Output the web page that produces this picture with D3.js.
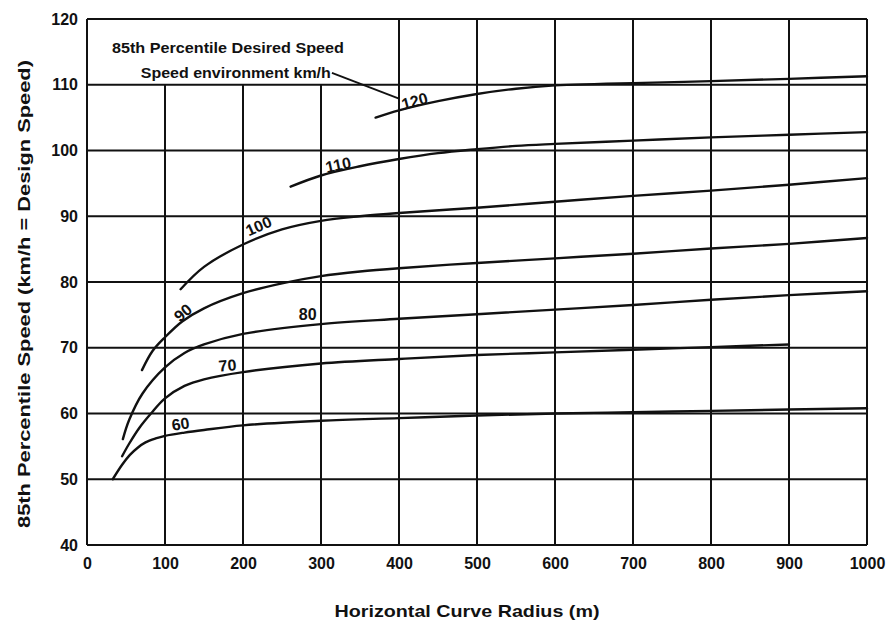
<!DOCTYPE html>
<html>
<head>
<meta charset="utf-8">
<script src="https://cdn.jsdelivr.net/npm/d3@7"></script>
<style>
  html, body { margin: 0; padding: 0; background: #fff; }
  svg { display: block; }
  text { font-family: "Liberation Sans", Arial, sans-serif; fill: #111; }
</style>
</head>
<body>
<svg id="chart" width="888" height="620"></svg>
<script>
// Axis ticks
const radiusTicks = [0, 100, 200, 300, 400, 500, 600, 700, 800, 900, 1000];
const speedTicks = [40, 50, 60, 70, 80, 90, 100, 110, 120];

// Speed environment (km/h) of each curve
const environments = [60, 70, 80, 90, 100, 110, 120];

// Horizontal curve radius (m) and 85th percentile speed (km/h) per environment
const radius60 = [33, 45, 55, 65, 75, 88, 100, 125, 150, 200, 300, 400, 500, 600, 700, 800, 900, 1000];
const speed60  = [50.0, 52.2, 53.7, 54.8, 55.6, 56.2, 56.6, 57.1, 57.5, 58.2, 58.9, 59.3, 59.7, 60.0, 60.2, 60.4, 60.6, 60.8];

const radius70 = [45, 54, 67, 82, 100, 125, 150, 200, 300, 400, 500, 600, 700, 800, 900];
const speed70  = [53.5, 55.4, 57.8, 60.0, 62.3, 64.2, 65.2, 66.3, 67.6, 68.3, 68.9, 69.3, 69.7, 70.1, 70.5];

const radius80 = [46, 54, 71, 100, 125, 150, 200, 300, 400, 500, 600, 700, 800, 900, 1000];
const speed80  = [56.1, 59.0, 63.0, 67.0, 69.2, 70.5, 72.1, 73.6, 74.4, 75.1, 75.8, 76.5, 77.3, 78.0, 78.6];

const radius90 = [70.5, 84, 100, 122, 150, 200, 250, 300, 350, 400, 500, 600, 700, 800, 900, 1000];
const speed90  = [66.6, 69.5, 71.6, 74.0, 76.0, 78.3, 79.8, 80.9, 81.6, 82.1, 82.9, 83.6, 84.3, 85.1, 85.8, 86.7];

const radius100 = [120, 150, 200, 250, 300, 350, 400, 500, 600, 700, 800, 900, 1000];
const speed100  = [78.9, 82.3, 85.7, 88.0, 89.3, 90.0, 90.5, 91.3, 92.2, 93.1, 93.9, 94.8, 95.8];

const radius110 = [261, 300, 350, 400, 450, 500, 550, 600, 700, 800, 900, 1000];
const speed110  = [94.5, 96.2, 97.6, 98.7, 99.6, 100.2, 100.7, 101.0, 101.5, 102.0, 102.4, 102.8];

const radius120 = [370, 400, 450, 500, 550, 600, 650, 700, 800, 900, 1000];
const speed120  = [105.0, 106.1, 107.5, 108.6, 109.4, 109.9, 110.1, 110.25, 110.55, 110.9, 111.3];

// Text
const legendTitle = "85th Percentile Desired Speed";
const legendSubtitle = "Speed environment km/h";
const xTitle = "Horizontal Curve Radius (m)";
const yTitle = "85th Percentile Speed (km/h = Design Speed)";

const curves = [
  { env: 60,  r: radius60,  v: speed60 },
  { env: 70,  r: radius70,  v: speed70 },
  { env: 80,  r: radius80,  v: speed80 },
  { env: 90,  r: radius90,  v: speed90 },
  { env: 100, r: radius100, v: speed100 },
  { env: 110, r: radius110, v: speed110 },
  { env: 120, r: radius120, v: speed120 }
];

// Where each curve's environment label sits (data units) and its tilt
const labelPlacement = {
  60:  { r: 120, v: 58.4, rot: -8 },
  70:  { r: 180, v: 67.3, rot: -5 },
  80:  { r: 283, v: 75.1, rot: 0 },
  90:  { r: 123, v: 75.3, rot: -40 },
  100: { r: 220, v: 88.5, rot: -24 },
  110: { r: 322, v: 97.8, rot: -12 },
  120: { r: 420, v: 107.5, rot: -15 }
};

const svg = d3.select("#chart");
const x = d3.scaleLinear().domain([0, 1000]).range([87, 867]);
const y = d3.scaleLinear().domain([40, 120]).range([545, 19]);

const ink = "#111";
const gridW = 2;

// The legend panel occupies the top band left of 400 m; verticals stop under it
const legendRight = 400;
const legendBottom = 110;

const grid = svg.append("g");
grid.selectAll("line.h")
  .data(speedTicks)
  .join("line")
  .attr("x1", x(0)).attr("x2", x(1000))
  .attr("y1", d => y(d)).attr("y2", d => y(d))
  .attr("stroke", ink).attr("stroke-width", gridW);

grid.selectAll("line.v")
  .data(radiusTicks)
  .join("line")
  .attr("x1", d => x(d)).attr("x2", d => x(d))
  .attr("y1", y(40))
  .attr("y2", d => (d > 0 && d < legendRight) ? y(legendBottom) : y(120))
  .attr("stroke", ink).attr("stroke-width", gridW);

// Tick labels through D3 axes
const xAxis = svg.append("g")
  .attr("transform", `translate(0,${y(40)})`)
  .call(d3.axisBottom(x).tickValues(radiusTicks).tickSize(0).tickPadding(13).tickFormat(d3.format("d")));
const yAxis = svg.append("g")
  .attr("transform", `translate(${x(0)},0)`)
  .call(d3.axisLeft(y).tickValues(speedTicks).tickSize(0).tickPadding(9).tickFormat(d3.format("d")));
[xAxis, yAxis].forEach(a => {
  a.select(".domain").remove();
  a.selectAll("text")
    .style("font-family", "'Liberation Sans', Arial, sans-serif")
    .style("font-size", "16px")
    .style("font-weight", "bold")
    .attr("fill", ink);
});

// Speed curves
const line = d3.line()
  .x(d => x(d[0]))
  .y(d => y(d[1]))
  .curve(d3.curveCatmullRom.alpha(0.5));

svg.append("g")
  .selectAll("path")
  .data(curves)
  .join("path")
  .attr("d", c => line(c.r.map((r, i) => [r, c.v[i]])))
  .attr("fill", "none")
  .attr("stroke", ink)
  .attr("stroke-width", 2.4)
  .attr("stroke-linecap", "round");

// Curve labels
svg.append("g")
  .selectAll("text")
  .data(environments)
  .join("text")
  .attr("transform", e => {
    const p = labelPlacement[e];
    return `translate(${x(p.r)},${y(p.v)}) rotate(${p.rot})`;
  })
  .attr("text-anchor", "middle")
  .attr("dominant-baseline", "central")
  .style("font-size", "16px")
  .style("font-weight", "bold")
  .text(e => e);

// Legend panel text and leader to the 120 curve
svg.append("text")
  .attr("x", x(32)).attr("y", y(115.6))
  .attr("dominant-baseline", "central")
  .attr("textLength", 232).attr("lengthAdjust", "spacingAndGlyphs")
  .style("font-size", "14px").style("font-weight", "bold")
  .text(legendTitle);
svg.append("text")
  .attr("x", x(69)).attr("y", y(111.8))
  .attr("dominant-baseline", "central")
  .attr("textLength", 190).attr("lengthAdjust", "spacingAndGlyphs")
  .style("font-size", "14px").style("font-weight", "bold")
  .text(legendSubtitle);
svg.append("line")
  .attr("x1", x(314)).attr("y1", y(111.8))
  .attr("x2", x(400)).attr("y2", y(107.9))
  .attr("stroke", ink).attr("stroke-width", 1.8);

// Axis titles
svg.append("text")
  .attr("x", 467).attr("y", 611)
  .attr("text-anchor", "middle")
  .attr("dominant-baseline", "central")
  .attr("textLength", 265).attr("lengthAdjust", "spacingAndGlyphs")
  .style("font-size", "17px").style("font-weight", "bold")
  .text(xTitle);
svg.append("text")
  .attr("transform", `translate(24,${(y(40) + y(120)) / 2 + 12}) rotate(-90)`)
  .attr("text-anchor", "middle")
  .attr("dominant-baseline", "central")
  .attr("textLength", 468).attr("lengthAdjust", "spacingAndGlyphs")
  .style("font-size", "17px").style("font-weight", "bold")
  .text(yTitle);
</script>
</body>
</html>
